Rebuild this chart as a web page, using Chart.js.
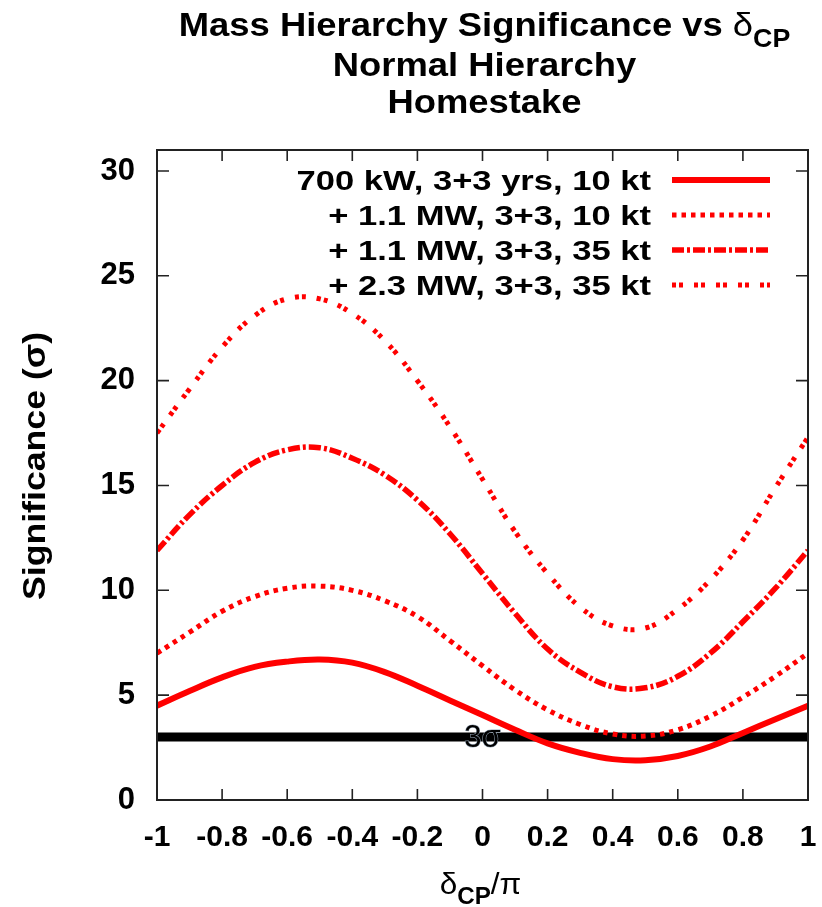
<!DOCTYPE html>
<html>
<head>
<meta charset="utf-8">
<script src="https://cdn.jsdelivr.net/npm/chart.js@4.4.1/dist/chart.umd.min.js"></script>
<style>
  body { margin: 0; background: #fff; }
  #wrap { width: 822px; height: 907px; }
</style>
</head>
<body>
<div id="wrap"><canvas id="sigChart" width="822" height="907"></canvas></div>
<script>
// delta_CP / pi sample points
var deltaCP = [-1, -0.9, -0.8, -0.7, -0.6, -0.5, -0.4, -0.3, -0.2, -0.1, 0,
               0.1, 0.2, 0.3, 0.4, 0.5, 0.6, 0.7, 0.8, 0.9, 1];

// significance (sigma)
var sig700kW  = [4.5, 5.2, 5.85, 6.35, 6.6, 6.7, 6.55, 6.1, 5.45, 4.75, 4.05,
                 3.35, 2.7, 2.25, 1.95, 1.9, 2.1, 2.55, 3.2, 3.85, 4.5];
var sig11MW10 = [7.0, 8.0, 9.0, 9.7, 10.1, 10.2, 10.0, 9.5, 8.75, 7.6, 6.4,
                 5.25, 4.3, 3.6, 3.15, 3.05, 3.35, 4.0, 4.9, 5.9, 7.0];
var sig11MW35 = [11.9, 13.6, 15.0, 16.1, 16.7, 16.8, 16.3, 15.5, 14.3, 12.7, 10.8,
                 8.9, 7.2, 6.1, 5.4, 5.35, 5.9, 7.0, 8.5, 10.1, 11.9];
var sig23MW35 = [17.5, 19.6, 21.6, 23.1, 23.9, 23.9, 23.2, 21.9, 20.0, 17.8, 15.3,
                 12.8, 10.8, 9.2, 8.3, 8.2, 9.1, 10.5, 12.4, 14.9, 17.3];

var seriesLabels = ['700 kW, 3+3 yrs, 10 kt', '+ 1.1 MW, 3+3, 10 kt',
                    '+ 1.1 MW, 3+3, 35 kt', '+ 2.3 MW, 3+3, 35 kt'];

// 3 sigma reference
var sigmaX = [-1, 1];
var sigmaY = [3, 3];
var sigmaLabel = '3σ';

var xTicks = [-1, -0.8, -0.6, -0.4, -0.2, 0, 0.2, 0.4, 0.6, 0.8, 1];
var xTickLabels = ['-1', '-0.8', '-0.6', '-0.4', '-0.2', '0', '0.2', '0.4', '0.6', '0.8', '1'];
var yTicks = [0, 5, 10, 15, 20, 25, 30];
var yTickLabels = ['0', '5', '10', '15', '20', '25', '30'];

var titleLines = ['Mass Hierarchy Significance vs ', 'Normal Hierarchy', 'Homestake'];

var FONT = '"Liberation Sans", Arial, sans-serif';

function pts(xs, ys) {
  return xs.map(function (x, i) { return { x: x, y: ys[i] }; });
}

// draw a run of text pieces, stretched horizontally by sx
function drawRich(ctx, parts, x, y, align, sx) {
  var total = 0;
  parts.forEach(function (p) {
    ctx.font = p.font;
    p.w = ctx.measureText(p.text).width;
    total += p.w;
  });
  var start = x;
  if (align === 'center') start = x - total * sx / 2;
  if (align === 'right') start = x - total * sx;
  ctx.save();
  ctx.translate(start, y);
  ctx.scale(sx, 1);
  ctx.textAlign = 'left';
  ctx.textBaseline = 'alphabetic';
  var cx = 0;
  parts.forEach(function (p) {
    ctx.font = p.font;
    ctx.fillStyle = '#000';
    ctx.fillText(p.text, cx, p.dy || 0);
    cx += p.w;
  });
  ctx.restore();
}

var decorPlugin = {
  id: 'decor',
  afterDatasetsDraw: function (chart) {
    var ctx = chart.ctx;
    var xs = chart.scales.x, ys = chart.scales.y;
    // 3 sigma label
    var lx = xs.getPixelForValue(0), ly = ys.getPixelForValue(3);
    ctx.save();
    ctx.font = '31px ' + FONT;
    ctx.textAlign = 'center';
    ctx.textBaseline = 'middle';
    ctx.lineWidth = 1;
    ctx.strokeStyle = '#9ab';
    ctx.strokeText(sigmaLabel, lx, ly + 1);
    ctx.fillStyle = '#000';
    ctx.fillText(sigmaLabel, lx, ly + 1);
    ctx.restore();
  },
  afterDraw: function (chart) {
    var ctx = chart.ctx;
    var a = chart.chartArea;
    var xs = chart.scales.x, ys = chart.scales.y;
    ctx.save();
    // frame
    ctx.strokeStyle = '#222';
    ctx.lineWidth = 2;
    ctx.strokeRect(a.left, a.top, a.right - a.left, a.bottom - a.top);
    // inward ticks, all four sides
    ctx.lineWidth = 1.6;
    ctx.beginPath();
    xTicks.forEach(function (v) {
      var px = xs.getPixelForValue(v);
      ctx.moveTo(px, a.bottom); ctx.lineTo(px, a.bottom - 11);
      ctx.moveTo(px, a.top); ctx.lineTo(px, a.top + 11);
    });
    yTicks.forEach(function (v) {
      var py = ys.getPixelForValue(v);
      ctx.moveTo(a.left, py); ctx.lineTo(a.left + 12, py);
      ctx.moveTo(a.right, py); ctx.lineTo(a.right - 12, py);
    });
    ctx.stroke();
    ctx.restore();

    // title
    var cx = (a.left + a.right) / 2 + 2;
    drawRich(ctx, [
      { text: titleLines[0], font: 'bold 34px ' + FONT },
      { text: 'δ', font: '34px ' + FONT },
      { text: 'CP', font: 'bold 25px ' + FONT, dy: 11 }
    ], cx, 36, 'center', 1.07);
    drawRich(ctx, [{ text: titleLines[1], font: 'bold 34px ' + FONT }], cx, 76, 'center', 1.07);
    drawRich(ctx, [{ text: titleLines[2], font: 'bold 34px ' + FONT }], cx, 113, 'center', 1.07);

    // x axis title
    drawRich(ctx, [
      { text: 'δ', font: '30px ' + FONT },
      { text: 'CP', font: 'bold 23px ' + FONT, dy: 10 },
      { text: '/π', font: '30px ' + FONT }
    ], cx - 4, 894, 'center', 1.05);

    // y axis title
    ctx.save();
    ctx.translate(36, 466);
    ctx.rotate(-Math.PI / 2);
    ctx.scale(1.15, 1);
    ctx.font = 'bold 31px ' + FONT;
    ctx.fillStyle = '#000';
    ctx.textAlign = 'center';
    ctx.textBaseline = 'middle';
    ctx.fillText('Significance (σ)', 0, 0);
    ctx.restore();

    // legend: text right-aligned, sample line to the right
    var rows = [180, 215, 250, 285];
    seriesLabels.forEach(function (lab, i) {
      var ds = chart.data.datasets[i];
      drawRich(ctx, [{ text: lab, font: 'bold 27px ' + FONT }], 651, rows[i] + 10, 'right', 1.28);
      ctx.save();
      ctx.strokeStyle = ds.borderColor;
      ctx.lineWidth = ds.borderWidth;
      ctx.setLineDash(ds.borderDash || []);
      ctx.lineCap = 'butt';
      ctx.beginPath();
      ctx.moveTo(672, rows[i]);
      ctx.lineTo(770, rows[i]);
      ctx.stroke();
      ctx.restore();
    });
  }
};

var lineStyle = {
  fill: false,
  pointRadius: 0,
  tension: 0.4,
  borderCapStyle: 'butt'
};

new Chart(document.getElementById('sigChart'), {
  type: 'line',
  data: {
    datasets: [
      Object.assign({ label: seriesLabels[0], data: pts(deltaCP, sig700kW),
        borderColor: '#ff0000', borderWidth: 6, borderDash: [] }, lineStyle),
      Object.assign({ label: seriesLabels[1], data: pts(deltaCP, sig11MW10),
        borderColor: '#ff0000', borderWidth: 5, borderDash: [4.5, 5] }, lineStyle),
      Object.assign({ label: seriesLabels[2], data: pts(deltaCP, sig11MW35),
        borderColor: '#ff0000', borderWidth: 5.5, borderDash: [12, 3, 3, 3] }, lineStyle),
      Object.assign({ label: seriesLabels[3], data: pts(deltaCP, sig23MW35),
        borderColor: '#ff0000', borderWidth: 5, borderDash: [4, 3, 4, 11] }, lineStyle),
      { label: sigmaLabel, data: pts(sigmaX, sigmaY), borderColor: '#000', borderWidth: 9,
        pointRadius: 0, fill: false, order: 10 }
    ]
  },
  options: {
    responsive: false,
    devicePixelRatio: 1,
    animation: false,
    layout: { padding: { left: 0, top: 150, right: 14, bottom: 0 } },
    plugins: { legend: { display: false }, title: { display: false }, tooltip: { enabled: false } },
    scales: {
      x: {
        type: 'linear', min: -1, max: 1,
        grid: { display: false, drawTicks: false },
        border: { display: false },
        afterBuildTicks: function (s) { s.ticks = xTicks.map(function (v) { return { value: v }; }); },
        afterFit: function (s) { s.height = 107; s.paddingLeft = 0; s.paddingRight = 0; },
        ticks: {
          color: '#000', padding: 20, maxRotation: 0, autoSkip: false,
          font: { family: FONT, weight: 'bold', size: 30 },
          callback: function (v) { return xTickLabels[xTicks.indexOf(v)]; }
        }
      },
      y: {
        type: 'linear', min: 0, max: 31,
        grid: { display: false, drawTicks: false },
        border: { display: false },
        afterBuildTicks: function (s) { s.ticks = yTicks.map(function (v) { return { value: v }; }); },
        afterFit: function (s) { s.width = 157; s.paddingTop = 0; s.paddingBottom = 0; },
        ticks: {
          color: '#000', padding: 22, autoSkip: false,
          font: { family: FONT, weight: 'bold', size: 31 },
          callback: function (v) { return yTickLabels[yTicks.indexOf(v)]; }
        }
      }
    }
  },
  plugins: [decorPlugin]
});
</script>
</body>
</html>
